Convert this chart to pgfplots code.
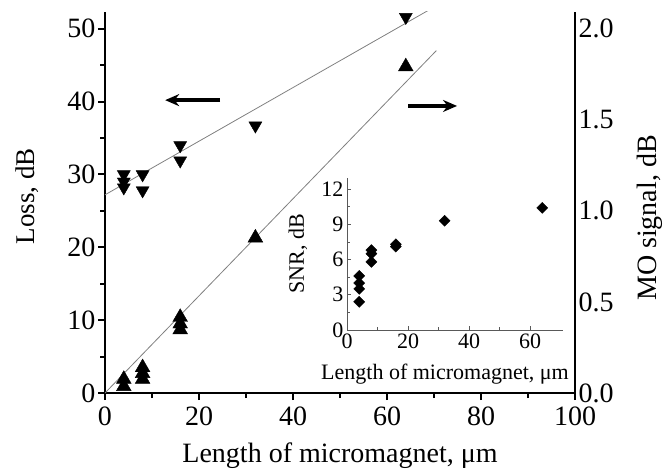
\documentclass[border=0pt]{standalone}
\usepackage{pgfplots}
\pgfplotsset{compat=1.18}
\usepackage{fontspec}
\setmainfont{Liberation Serif}
\usetikzlibrary{arrows.meta}
\newcommand{\mainf}{\fontsize{28}{30}\selectfont}
\newcommand{\insf}{\fontsize{22}{24}\selectfont}
\begin{document}
\begin{tikzpicture}[x=1pt,y=1pt]
\path[use as bounding box] (0,0) rectangle (667,469);
% main left axis
\begin{axis}[
  at={(105pt,76pt)}, anchor=south west,
  scale only axis, width=470pt, height=381pt,
  xmin=0, xmax=100, ymin=0, ymax=52.3,
  axis x line*=bottom, axis y line*=left,
  axis line style={line width=2.6pt,-},
  xtick={0,20,...,100}, minor x tick num=1,
  ytick={0,10,...,50}, minor y tick num=1,
  tick style={line width=2pt,black},
  major tick length=7pt, minor tick length=5pt,
  tick align=outside,
  ticklabel style={font=\mainf},
  /pgf/number format/assume math mode=true,
  xticklabel style={yshift=-3pt},
  yticklabel style={xshift=1pt},
]
\addplot[only marks, mark=triangle*, mark size=7.5pt, mark options={rotate=180,fill=black}]
 coordinates {(4,30) (4,29) (4,28.2) (8,30) (8,27.8) (16,34) (16,31.9) (32,36.7) (64,51.6)};
\addplot[gray, line width=0.8pt] coordinates {(0,27.2) (69,52.6)};
\draw[line width=3.5pt, -{Stealth[length=14pt,width=12pt]}] (axis cs:24.5,40.2) -- (axis cs:12.8,40.2);
\draw[line width=3.5pt, -{Stealth[length=14pt,width=12pt]}] (axis cs:64.5,39.4) -- (axis cs:74.9,39.4);
\end{axis}
% right axis
\begin{axis}[
  at={(105pt,76pt)}, anchor=south west,
  scale only axis, width=470pt, height=381pt,
  xmin=0, xmax=100, ymin=0, ymax=2.092,
  axis x line=none, axis y line*=right,
  axis line style={line width=2.6pt,-},
  ytick={0,0.5,...,2.0},
  major tick length=0pt,
  ticklabel style={font=\mainf},
  yticklabel style={/pgf/number format/.cd, fixed, fixed zerofill, precision=1},
  /pgf/number format/assume math mode=true,
]
\addplot[only marks, mark=triangle*, mark size=8.5pt, mark options={fill=black}]
 coordinates {(4,0.076) (4,0.036) (8,0.14) (8,0.108) (8,0.076) (16,0.416) (16,0.38) (16,0.348) (32,0.852) (64,1.792)};
\addplot[gray, line width=0.8pt] coordinates {(0,0) (70.5,1.88)};
\end{axis}
% inset
\begin{axis}[
  at={(347pt,139pt)}, anchor=south west,
  scale only axis, width=216pt, height=152pt,
  xmin=0, xmax=70.8, ymin=0, ymax=12.94,
  axis x line*=bottom, axis y line*=left,
  axis line style={line width=0.6pt,-, gray!70!black},
  xtick={0,20,40,60}, minor x tick num=1,
  ytick={0,3,...,12}, minor y tick num=1,
  tick style={line width=0.6pt, gray!70!black},
  major tick length=4pt, minor tick length=3pt,
  tick align=inside,
  ticklabel style={font=\insf},
  /pgf/number format/assume math mode=true,
  xticklabel style={yshift=0pt},
  yticklabel style={xshift=0pt},
]
\addplot[only marks, mark=square*, mark size=3.9pt, mark options={rotate=45,fill=black}]
 coordinates {(4,4.6) (4,4.0) (4,3.5) (4,2.4) (8,6.8) (8,6.5) (8,5.8) (16,7.3) (16,7.1) (32,9.3) (64,10.4)};
\end{axis}
\node[font=\mainf, anchor=base] at (340,7) {Length of micromagnet, μm};
\node[font=\fontsize{27}{29}\selectfont, rotate=90] at (27,273) {Loss, dB};
\node[font=\fontsize{28}{30}\selectfont, rotate=90] at (650,251) {MO signal, dB};
\node[font=\insf, rotate=90] at (298,215) {SNR, dB};
\node[font=\insf, anchor=base] at (445,89) {Length of micromagnet, μm};
\end{tikzpicture}
\end{document}
